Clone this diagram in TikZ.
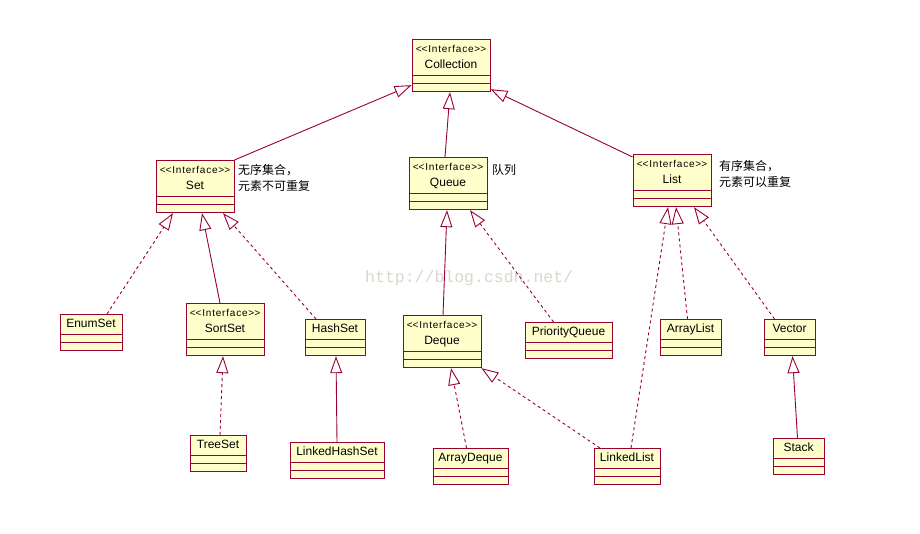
\documentclass[tikz,border=0pt]{standalone}
\usepackage{fontspec}
\setmainfont{Liberation Sans}
\newfontfamily\cjk{Noto Sans CJK SC}
\newfontfamily\stfont[LetterSpace=8]{Liberation Sans}
\newfontfamily\wmfont{Liberation Mono}
\usetikzlibrary{arrows.meta,shapes.multipart,calc,positioning}

\definecolor{umlline}{RGB}{153,0,51}
\definecolor{umlfill}{RGB}{255,255,204}
\definecolor{wmgray}{RGB}{216,216,206}

\newcommand{\iface}[1]{\begin{tabular}{@{}c@{}}{\stfont\fontsize{10}{11}\selectfont <\kern0pt<Interface>\kern0pt>}\\[-1pt]#1\end{tabular}}

\begin{document}
\begin{tikzpicture}[x=1pt,y=-1pt,
	cls/.style={rectangle split, rectangle split parts=3, draw=umlline, fill=umlfill, line width=0.9pt,
		inner xsep=1pt, inner ysep=1pt, rectangle split empty part height=2pt,
		rectangle split empty part depth=0pt, anchor=north, font=\fontsize{12}{17}\selectfont},
	gen/.style={draw=umlline, line width=0.9pt, -{Triangle[open,length=17pt,width=12pt]}},
	real/.style={gen, dash pattern=on 3pt off 3pt},
	note/.style={font=\cjk\fontsize{12}{16}\selectfont, anchor=west, align=left, inner sep=0pt}]
		\fill[white] (0,0) rectangle (920,534);
		\node[font=\wmfont\fontsize{16.5}{18}\selectfont, text=wmgray, anchor=west, inner sep=0pt] (wm) at (365,278) {http://blog.csdn.net/};

		% interfaces
		\node[cls, minimum width=78pt] (coll) at (451,39) {\iface{Collection}};
		\node[cls, minimum width=78pt] (set) at (195,160) {\iface{Set}};
		\node[cls, minimum width=78pt] (queue) at (448,157) {\iface{Queue}};
		\node[cls, minimum width=78pt] (list) at (672,154) {\iface{List}};
		\node[cls, minimum width=78pt] (sort) at (225,303) {\iface{SortSet}};
		\node[cls, minimum width=78pt] (deque) at (442,315) {\iface{Deque}};

		% classes
		\node[cls, minimum width=62pt] (enum) at (91,314) {EnumSet\strut};
		\node[cls, minimum width=60pt] (hash) at (335,319) {HashSet\strut};
		\node[cls, minimum width=87pt] (pq) at (568.5,322) {PriorityQueue\strut};
		\node[cls, minimum width=61pt] (al) at (690.5,319) {ArrayList\strut};
		\node[cls, minimum width=51pt] (vec) at (789.5,319) {Vector\strut};
		\node[cls, minimum width=56pt] (tree) at (218,435) {TreeSet\strut};
		\node[cls, minimum width=94pt] (lhs) at (337,442) {LinkedHashSet\strut};
		\node[cls, minimum width=75pt] (ad) at (470.5,448) {ArrayDeque\strut};
		\node[cls, minimum width=66pt] (ll) at (627,448) {LinkedList\strut};
		\node[cls, minimum width=51pt] (stack) at (798.5,438) {Stack\strut};

		% notes
		\node[note] (setnote) at (238,177.5) {无序集合，\\元素不可重复};
		\node[note] (queuenote) at (492,170) {队列};
		\node[note] (listnote) at (719,173.5) {有序集合，\\元素可以重复};

		% extends
		\draw[gen] (set.north east) -- ([yshift=7pt]coll.south west);
		\draw[gen] ([xshift=-3pt]queue.north) -- ([xshift=-1pt]coll.south);
		\draw[gen] ([yshift=-3pt]list.north west) -- ([yshift=3pt]coll.south east);
		\draw[gen] ([xshift=-5pt]sort.north) -- ([xshift=7pt]set.south);
		\draw[gen] ([xshift=1pt]deque.north) -- ([xshift=-1pt]queue.south);
		\draw[gen] ([xshift=-1pt]stack.north) -- ([xshift=3pt]vec.south);
		\draw[gen] (lhs.north) -- ([xshift=1pt]hash.south);

		% implements
		\draw[real] ([xshift=16pt]enum.north) -- ([xshift=-22pt]set.south);
		\draw[real] ([xshift=-19pt]hash.north) -- ([xshift=28pt]set.south);
		\draw[real] ([xshift=-15pt]pq.north) -- ([xshift=22pt]queue.south);
		\draw[real] ([xshift=4pt]ll.north) -- ([xshift=-4pt]list.south);
		\draw[real] ([xshift=-3pt]al.north) -- ([xshift=4pt]list.south);
		\draw[real] ([xshift=-15pt]vec.north) -- ([xshift=22pt]list.south);
		\draw[real] ([xshift=-4pt]ad.north) -- ([xshift=9pt]deque.south);
		\draw[real] ([xshift=-27pt]ll.north) -- (deque.south east);
		\draw[real] ([xshift=2pt]tree.north) -- ([xshift=-2pt]sort.south);
\end{tikzpicture}
\end{document}
